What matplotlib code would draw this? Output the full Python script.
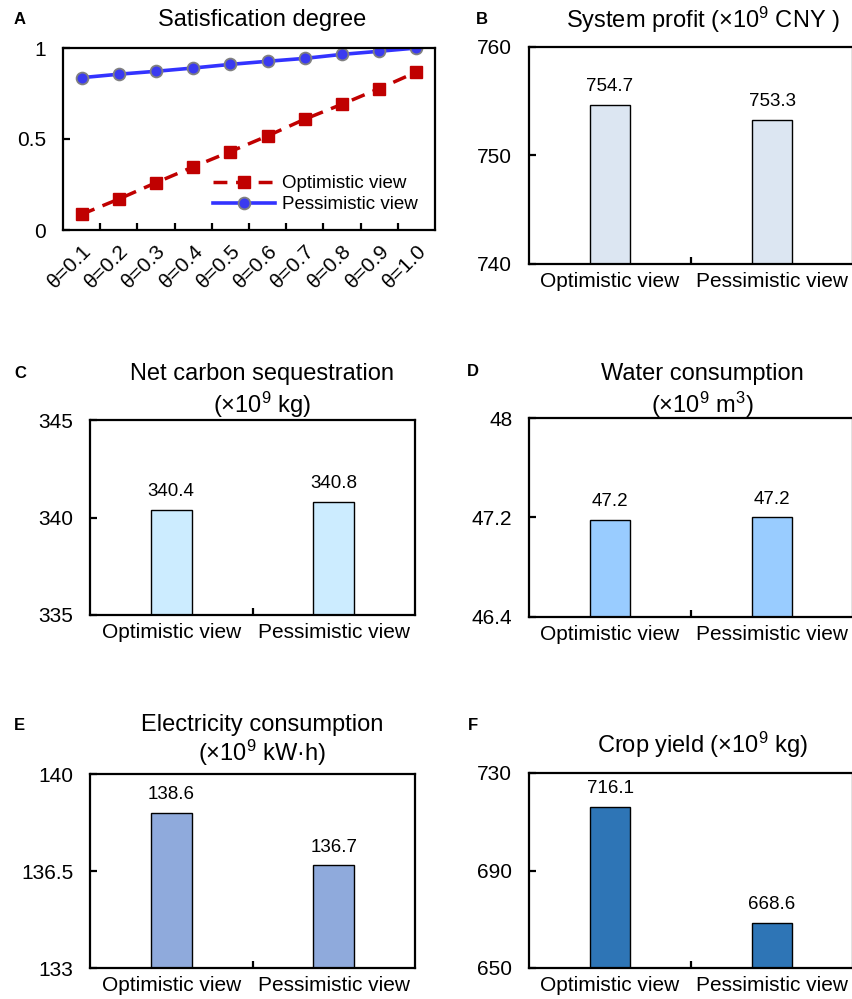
import numpy as np
import matplotlib
matplotlib.use("Agg")
import matplotlib.pyplot as plt

plt.rcParams['font.family'] = ['Liberation Sans', 'DejaVu Sans']
plt.rcParams['mathtext.fontset'] = 'custom'
plt.rcParams['mathtext.rm'] = 'Liberation Sans'
plt.rcParams['mathtext.it'] = 'Liberation Sans:italic'
plt.rcParams['mathtext.bf'] = 'Liberation Sans:bold'

# ---- data ----
theta_labels = ["θ=0.1", "θ=0.2", "θ=0.3", "θ=0.4", "θ=0.5",
                "θ=0.6", "θ=0.7", "θ=0.8", "θ=0.9", "θ=1.0"]
optimistic_sat = [0.086, 0.170, 0.260, 0.347, 0.431, 0.517, 0.609, 0.691, 0.777, 0.868]
pessimistic_sat = [0.837, 0.856, 0.872, 0.890, 0.910, 0.927, 0.943, 0.965, 0.982, 1.0]

views = ["Optimistic view", "Pessimistic view"]
profit = [754.7, 753.3]
carbon = [340.4, 340.8]
water = [47.18, 47.20]
electricity = [138.6, 136.7]
crop = [716.1, 668.6]

W, H = 852, 999
fig = plt.figure(figsize=(W / 100, H / 100), dpi=100)


def px_axes(l, t, r, b):
    return fig.add_axes([l / W, 1 - b / H, (r - l) / W, (b - t) / H])


def style_axes(ax):
    for s in ax.spines.values():
        s.set_linewidth(1.6)
    ax.tick_params(axis='both', direction='in', length=5, width=1.6,
                   labelsize=15)
    ax.tick_params(axis='y', pad=12)


def bar_panel(box, values, color, ylim, yticks, yticklabels, value_fmt):
    ax = px_axes(*box)
    x = np.arange(len(values))
    bars = ax.bar(x, [v - ylim[0] for v in values], bottom=ylim[0], width=0.25,
                  color=color, edgecolor='black', linewidth=1.0)
    ax.set_xlim(-0.5, 1.5)
    ax.set_ylim(*ylim)
    ax.set_yticks(yticks)
    ax.set_yticklabels(yticklabels)
    ax.set_xticks(x)
    ax.set_xticklabels(views)
    ax.set_xticks([0.5], minor=True)
    style_axes(ax)
    ax.tick_params(axis='x', which='major', length=0, pad=6)
    ax.tick_params(axis='x', which='minor', direction='in', length=5, width=1.6)
    for b, v in zip(bars, values):
        ax.annotate(value_fmt.format(v), (b.get_x() + b.get_width() / 2, v),
                    xytext=(0, 7), textcoords='offset points',
                    ha='center', va='bottom', fontsize=13.5)
    return ax


# ---- panel A: satisfaction degree ----
axA = px_axes(63, 48, 435, 230)
xa = np.arange(len(theta_labels))
axA.plot(xa, optimistic_sat, color='#C00000', linestyle=(0, (4, 2.5)), linewidth=2.5,
         marker='s', markersize=8.5, label='Optimistic view')
axA.plot(xa, pessimistic_sat, color='#3333FF', linewidth=2.6,
         marker='o', markersize=8.5, markerfacecolor='#3A3AF0',
         markeredgecolor='#808080', markeredgewidth=1.3, label='Pessimistic view')
axA.set_xlim(-0.5, 9.5)
axA.set_ylim(0, 1)
axA.set_yticks([0, 0.5, 1])
axA.set_yticklabels(["0", "0.5", "1"])
axA.set_xticks(xa)
axA.set_xticklabels(theta_labels, rotation=45, ha='right', va='top',
                    rotation_mode='anchor')
axA.set_xticks(np.arange(0.5, 9.5, 1), minor=True)
style_axes(axA)
axA.tick_params(axis='x', which='major', length=0, pad=8)
axA.tick_params(axis='x', which='minor', direction='in', length=5, width=1.6)
axA.legend(loc='lower right', frameon=False, fontsize=13.5, handlelength=3.3,
           handletextpad=0.4, labelspacing=0.2, borderaxespad=0.6,
           borderpad=0.3)

# ---- bar panels ----
bar_panel((529, 47, 853, 264), profit, '#DCE6F2', (740, 760),
          [740, 750, 760], ["740", "750", "760"], "{:.1f}")
bar_panel((90, 420, 415, 615), carbon, '#CCECFF', (335, 345),
          [335, 340, 345], ["335", "340", "345"], "{:.1f}")
bar_panel((529, 418, 853, 617), water, '#99CCFF', (46.4, 48),
          [46.4, 47.2, 48], ["46.4", "47.2", "48"], "{:.1f}")
bar_panel((90, 774, 415, 968), electricity, '#8FAADC', (133, 140),
          [133, 136.5, 140], ["133", "136.5", "140"], "{:.1f}")
bar_panel((529, 773, 853, 968), crop, '#2E75B6', (650, 730),
          [650, 690, 730], ["650", "690", "730"], "{:.1f}")

# ---- titles and panel letters ----
def ftext(x, y, s, **kw):
    fig.text(x / W, 1 - y / H, s, **kw)

tkw = dict(ha='center', va='center', fontsize=17)
ftext(262, 20, "Satisfication degree", **tkw)
ftext(703, 20, "System profit (×10$^{9}$ CNY )", **tkw)
ftext(262, 374, "Net carbon sequestration", **tkw)
ftext(262, 405, "(×10$^{9}$ kg)", **tkw)
ftext(702, 374, "Water consumption", **tkw)
ftext(702, 405, "(×10$^{9}$ m$^{3}$)", **tkw)
ftext(262, 725, "Electricity consumption", **tkw)
ftext(262, 753, "(×10$^{9}$ kW·h)", **tkw)
ftext(702, 745, "Crop yield (×10$^{9}$ kg)", **tkw)

lkw = dict(ha='center', va='center', fontsize=12, fontweight='bold')
ftext(20, 20, "A", **lkw)
ftext(482, 20, "B", **lkw)
ftext(20, 373, "C", **lkw)
ftext(473, 372, "D", **lkw)
ftext(19, 725, "E", **lkw)
ftext(473, 725, "F", **lkw)

fig.savefig("out.png", dpi=100)
